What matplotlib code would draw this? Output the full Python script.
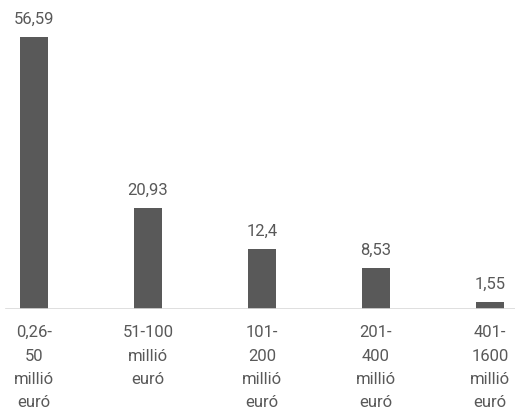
import matplotlib
matplotlib.use("Agg")
import matplotlib.pyplot as plt

BAR = "#595959"
TEXT = "#595959"
AXIS = "#d9d9d9"

categories = ["0,26-\n50\nmillió\neuró", "51-100\nmillió\neuró",
              "101-\n200\nmillió\neuró", "201-\n400\nmillió\neuró",
              "401-\n1600\nmillió\neuró"]
values = [56.59, 20.93, 12.4, 8.53, 1.55]

plt.rcParams["font.family"] = ["Roboto", "DejaVu Sans"]

fig = plt.figure(figsize=(5.15, 4.10), dpi=100, facecolor="white")
ax = fig.add_axes([0, 0.2439, 1, 0.7561])

x = list(range(len(values)))
ax.bar(x, values, width=0.25, color=BAR, zorder=2)
for xi, v in zip(x, values):
    ax.annotate(f"{v:g}".replace(".", ","), (xi, v), xytext=(0, 8),
                textcoords="offset points", ha="center", va="bottom",
                fontsize=12, color=TEXT)

ax.set_xlim(-0.298, 4.219)
ax.set_ylim(0, 64.5)
ax.axhline(0, xmin=6 / 515, xmax=1, color=AXIS, linewidth=1.2, zorder=3)

ax.set_xticks(x)
ax.set_xticklabels(categories, fontsize=12, color=TEXT, linespacing=1.7)
ax.tick_params(axis="x", length=0, pad=11)
ax.set_yticks([])
for s in ax.spines.values():
    s.set_visible(False)

fig.savefig("out.png", dpi=100, facecolor="white")
